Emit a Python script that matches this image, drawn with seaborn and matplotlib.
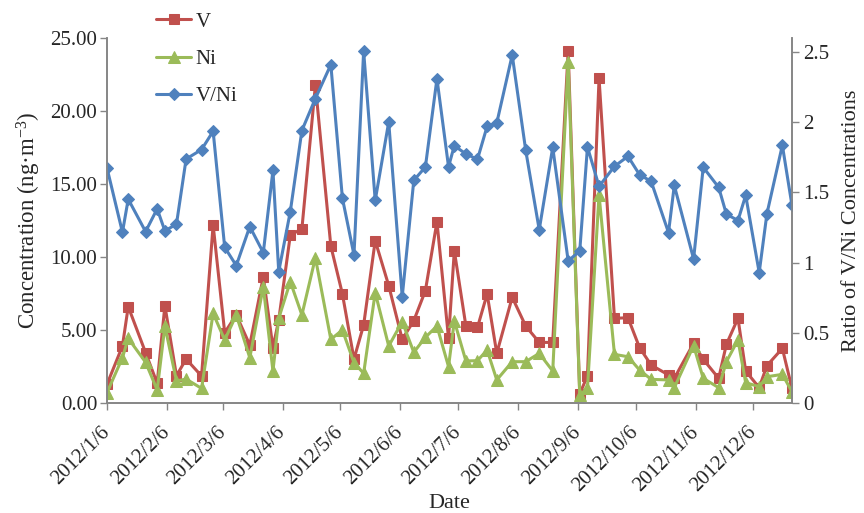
import matplotlib
matplotlib.use("Agg")
import matplotlib.pyplot as plt
import matplotlib.dates as mdates
from matplotlib.ticker import FuncFormatter, MultipleLocator
import pandas as pd
import seaborn as sns

dates = ["2012-01-06", "2012-01-14", "2012-01-17", "2012-01-26", "2012-02-01",
         "2012-02-05", "2012-02-11", "2012-02-16", "2012-02-24", "2012-03-01",
         "2012-03-07", "2012-03-13", "2012-03-20", "2012-03-27", "2012-04-01",
         "2012-04-04", "2012-04-10", "2012-04-16", "2012-04-23",
         "2012-05-01", "2012-05-07", "2012-05-13", "2012-05-18", "2012-05-24",
         "2012-05-31", "2012-06-07", "2012-06-13", "2012-06-19", "2012-06-25",
         "2012-07-01", "2012-07-04", "2012-07-10", "2012-07-16", "2012-07-21",
         "2012-07-26", "2012-08-03", "2012-08-10", "2012-08-17", "2012-08-24",
         "2012-09-01", "2012-09-07", "2012-09-11", "2012-09-17", "2012-09-25",
         "2012-10-02", "2012-10-08", "2012-10-14", "2012-10-23", "2012-10-26",
         "2012-11-05", "2012-11-10", "2012-11-18", "2012-11-22", "2012-11-28",
         "2012-12-02", "2012-12-09", "2012-12-13", "2012-12-21", "2012-12-26"]

v_conc = [1.28, 3.90, 6.60, 3.45, 1.35, 6.67, 1.87, 3.01, 1.85, 12.19,
          4.82, 6.03, 3.97, 8.65, 3.79, 5.68, 11.51, 11.92, 21.78,
          10.75, 7.47, 3.01, 5.34, 11.12, 8.04, 4.36, 5.64, 7.69, 12.42,
          4.43, 10.43, 5.27, 5.18, 7.47, 3.40, 7.24, 5.27, 4.15, 4.15,
          24.11, 0.62, 1.87, 22.24, 5.80, 5.84, 3.79, 2.60, 1.92, 1.69,
          4.09, 2.99, 1.69, 4.02, 5.80, 2.19, 1.05, 2.56, 3.74, 1.00]

ni_conc = [0.71, 3.10, 4.43, 2.79, 0.89, 5.27, 1.51, 1.64, 1.00, 6.14,
           4.32, 6.03, 3.10, 7.97, 2.19, 5.80, 8.31, 6.03, 9.95,
           4.36, 5.00, 2.76, 2.03, 7.56, 3.90, 5.57, 3.47, 4.50, 5.27,
           2.49, 5.62, 2.88, 2.90, 3.63, 1.58, 2.83, 2.83, 3.40, 2.19,
           23.38, 0.55, 1.00, 14.25, 3.33, 3.17, 2.26, 1.62, 1.58, 1.05,
           3.93, 1.69, 1.05, 2.83, 4.32, 1.39, 1.12, 1.80, 1.96, 0.77]

ratio = [1.674, 1.216, 1.452, 1.221, 1.383, 1.226, 1.274, 1.738, 1.805, 1.936,
         1.109, 0.979, 1.257, 1.071, 1.657, 0.936, 1.364, 1.941, 2.169,
         2.41, 1.459, 1.055, 2.507, 1.443, 2.002, 0.757, 1.586, 1.681, 2.31,
         1.683, 1.833, 1.774, 1.736, 1.971, 1.995, 2.479, 1.80, 1.234, 1.821,
         1.012, 1.083, 1.824, 1.543, 1.686, 1.757, 1.626, 1.579, 1.214, 1.55,
         1.026, 1.679, 1.536, 1.345, 1.30, 1.479, 0.929, 1.348, 1.836, 1.407]

df = pd.DataFrame({"Date": pd.to_datetime(dates), "V": v_conc,
                   "Ni": ni_conc, "Ratio": ratio})

sns.set_style("white")
plt.rcParams['font.family'] = ['Liberation Serif', 'DejaVu Serif']
plt.rcParams['mathtext.fontset'] = 'custom'
plt.rcParams['mathtext.rm'] = 'Liberation Serif'

red = "#C0504D"
green = "#9BBB59"
blue = "#4F81BD"
grey = "#868686"
fs = 15

fig = plt.figure(figsize=(8.64, 5.13), dpi=100)
ax = fig.add_axes([107/864, 1-403/513, (792-107)/864, (403-38)/513])
ax2 = ax.twinx()

sns.lineplot(data=df, x="Date", y="V", ax=ax, color=red, marker="s",
             markersize=7, markeredgecolor=red, linewidth=2.2, label="V", legend=False)
sns.lineplot(data=df, x="Date", y="Ni", ax=ax, color=green, marker="^",
             markersize=8, markeredgecolor=green, linewidth=2.2, label="Ni", legend=False)
sns.lineplot(data=df, x="Date", y="Ratio", ax=ax2, color=blue, marker="D",
             markersize=6.5, markeredgecolor=blue, linewidth=2.2, label="V/Ni", legend=False)

ax.set_xlim(pd.Timestamp("2012-01-06"), pd.Timestamp("2012-12-26"))
ax.set_ylim(0, 25)
ax2.set_ylim(0, 2.6)
ax.yaxis.set_major_locator(MultipleLocator(5))
ax2.yaxis.set_major_locator(MultipleLocator(0.5))
ax.yaxis.set_major_formatter(FuncFormatter(lambda y, p: f"{y:.2f}"))
ax2.yaxis.set_major_formatter(FuncFormatter(lambda y, p: f"{y:g}"))

ax.xaxis.set_major_locator(mdates.MonthLocator(bymonthday=6))
def date_fmt(x, pos):
    d = mdates.num2date(x)
    return f"{d.year}/{d.month}/{d.day}"
ax.xaxis.set_major_formatter(FuncFormatter(date_fmt))

for a in (ax, ax2):
    for s in a.spines.values():
        s.set_color(grey)
        s.set_linewidth(1.2)
    a.spines['top'].set_visible(False)
    a.grid(False)

ax.tick_params(axis='y', direction='out', length=5, width=1, color=grey,
               labelsize=fs, pad=2, left=True)
ax2.tick_params(axis='y', direction='out', length=5, width=1, color=grey,
                labelsize=fs, pad=3, right=True)
ax.tick_params(axis='x', direction='out', length=5, width=1, color=grey,
               labelsize=fs, pad=14, bottom=True)
for lab in ax.get_xticklabels():
    lab.set_rotation(45)
    lab.set_ha('right')
    lab.set_va('center')
    lab.set_rotation_mode('anchor')

ax.set_xlabel("Date", fontsize=16, labelpad=-1)
ax.set_ylabel(r"Concentration (ng·m$\mathregular{^{-3}}$)", fontsize=16.5, labelpad=5)
ax2.set_ylabel("Ratio of V/Ni Concentrations", fontsize=16, labelpad=9)

handles = ax.get_lines()[:2] + ax2.get_lines()[:1]
fig.legend(handles, ["V", "Ni", "V/Ni"], loc="upper left",
           bbox_to_anchor=(156/864, 1-12/513), frameon=False, fontsize=fs,
           borderpad=0, borderaxespad=0, handlelength=1.7, handletextpad=0.2,
           labelspacing=0.85)

fig.savefig("out.png", dpi=100)
